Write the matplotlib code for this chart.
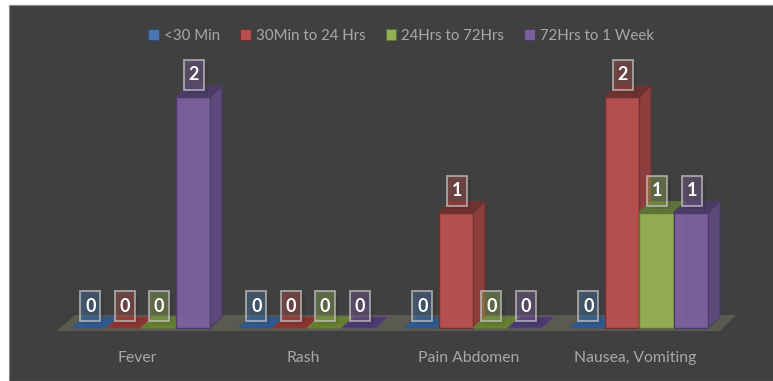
import matplotlib
matplotlib.use('Agg')
import matplotlib.pyplot as plt
from matplotlib.patches import Patch, Polygon, Rectangle

plt.rcParams['font.family'] = ['Lato', 'DejaVu Sans']

# Onset of symptoms, count of cases per time window
symptoms = ['Fever', 'Rash', 'Pain Abdomen', 'Nausea, Vomiting']
under_30min = [0, 0, 0, 0]
min30_to_24hrs = [0, 0, 1, 2]
hrs24_to_72hrs = [0, 0, 0, 1]
hrs72_to_1week = [2, 0, 0, 1]
series_names = ['<30 Min', '30Min to 24 Hrs', '24Hrs to 72Hrs', '72Hrs to 1 Week']

# front, side, top and flat (zero height) colours for each series
colors = [
    ('#4a78ae', '#34557f', '#2d4d78', '#2f5a8f'),
    ('#b9504d', '#8c3f3d', '#6e3231', '#8b3331'),
    ('#94b055', '#6f8340', '#5f7238', '#64802f'),
    ('#7b609d', '#5d4a7a', '#4b3c66', '#4b3a72'),
]
BG = '#404040'
TEXT = '#a8a8a8'

W, H = 773, 381
fig = plt.figure(figsize=(W / 100, H / 100), dpi=100, facecolor='white')
fig.add_artist(Rectangle((9 / W, 0), 1, 1 - 5 / H, transform=fig.transFigure,
                         facecolor=BG, edgecolor='#8a8a8a', linewidth=0.8, zorder=-1))

# axes span the plot area; the baseline sits on the bottom spine position
px_left, px_right, px_base, px_top = 9, 763, 328, 40
ax = fig.add_axes([px_left / W, (H - px_base) / H,
                   (px_right - px_left) / W, (px_base - px_top) / H])
ax.patch.set_visible(False)
x_per_px = 1 / 166
y_per_px = 1 / 115.5
ax.set_xlim((px_left - 141) * x_per_px, (px_right - 141) * x_per_px)
ax.set_ylim(0, (px_base - px_top) * y_per_px)

bar_w = 34.5 * x_per_px
dx = 12 * x_per_px
dy = 11 * y_per_px

# floor under all the bars
floor = Polygon([((57 - 141) * x_per_px, -3 * y_per_px), ((720 - 141) * x_per_px, -3 * y_per_px),
                 ((736 - 141) * x_per_px, 13 * y_per_px), ((75 - 141) * x_per_px, 13 * y_per_px)],
                closed=True, facecolor='#5b5a50', edgecolor='none', zorder=1, clip_on=False)
ax.add_patch(floor)

all_series = [under_30min, min30_to_24hrs, hrs24_to_72hrs, hrs72_to_1week]
for i, values in enumerate(all_series):
    front, side, top, flat = colors[i]
    z = 3 + i
    for j, v in enumerate(values):
        left = j + (i - 2) * bar_w
        right = left + bar_w
        if v == 0:
            ax.add_patch(Polygon([(left, 0), (right, 0), (right + dx, dy), (left + dx, dy)],
                                 closed=True, facecolor=flat, edgecolor=side, linewidth=0.6,
                                 zorder=z, clip_on=False))
        else:
            ax.add_patch(Polygon([(right, 0), (right + dx, dy), (right + dx, v + dy), (right, v)],
                                 closed=True, facecolor=side, edgecolor=top, linewidth=0.8,
                                 zorder=z, clip_on=False))
            ax.add_patch(Polygon([(left, v), (right, v), (right + dx, v + dy), (left + dx, v + dy)],
                                 closed=True, facecolor=top, edgecolor=top, linewidth=0.8,
                                 zorder=z, clip_on=False))
            ax.bar(left + bar_w / 2, v, bar_w, color=front, edgecolor=top, linewidth=1,
                   alpha=0.96, zorder=z + 0.1, clip_on=False)

# value tags float above each bar, with a faint shadow behind them
box_w = 20 * x_per_px
box_h = 30 * y_per_px
for i, values in enumerate(all_series):
    front = colors[i][0]
    for j, v in enumerate(values):
        cx = j + (i - 1.5) * bar_w + 1 * x_per_px
        cy = v + 22 * y_per_px
        ax.add_patch(Rectangle((cx - box_w / 2 + 4 * x_per_px, cy - box_h / 2 - 3 * y_per_px), box_w, box_h,
                               facecolor='black', alpha=0.07, edgecolor='none',
                               zorder=11, clip_on=False))
        ax.add_patch(Rectangle((cx - box_w / 2, cy - box_h / 2), box_w, box_h,
                               facecolor=front, alpha=0.38, edgecolor='none',
                               zorder=12, clip_on=False))
        ax.add_patch(Rectangle((cx - box_w / 2, cy - box_h / 2), box_w, box_h,
                               facecolor='none', edgecolor='#c4c4c4', alpha=0.75,
                               linewidth=1.3, zorder=13, clip_on=False))
        ax.text(cx, cy, str(v), ha='center', va='center', color='white',
                fontsize=13, fontweight='bold', zorder=14, clip_on=False)

# category labels sit a little left of the group centres
ax.set_xticks([j - 4 * x_per_px for j in range(len(symptoms))])
ax.set_xticklabels(symptoms, color=TEXT, fontsize=11.3)
ax.tick_params(axis='x', length=0, pad=16.5)
ax.set_yticks([])
for s in ax.spines.values():
    s.set_visible(False)

handles = [Patch(facecolor=c[0], edgecolor=c[2], linewidth=0.8) for c in colors]
leg = fig.legend(handles, series_names, ncols=4, frameon=False, loc='center',
                 bbox_to_anchor=(401 / W, 1 - 36 / H), fontsize=10.8, labelcolor=TEXT,
                 handlelength=0.72, handleheight=0.72, handletextpad=0.3, columnspacing=1.36)

fig.savefig('out.png', dpi=100, facecolor=fig.get_facecolor())
